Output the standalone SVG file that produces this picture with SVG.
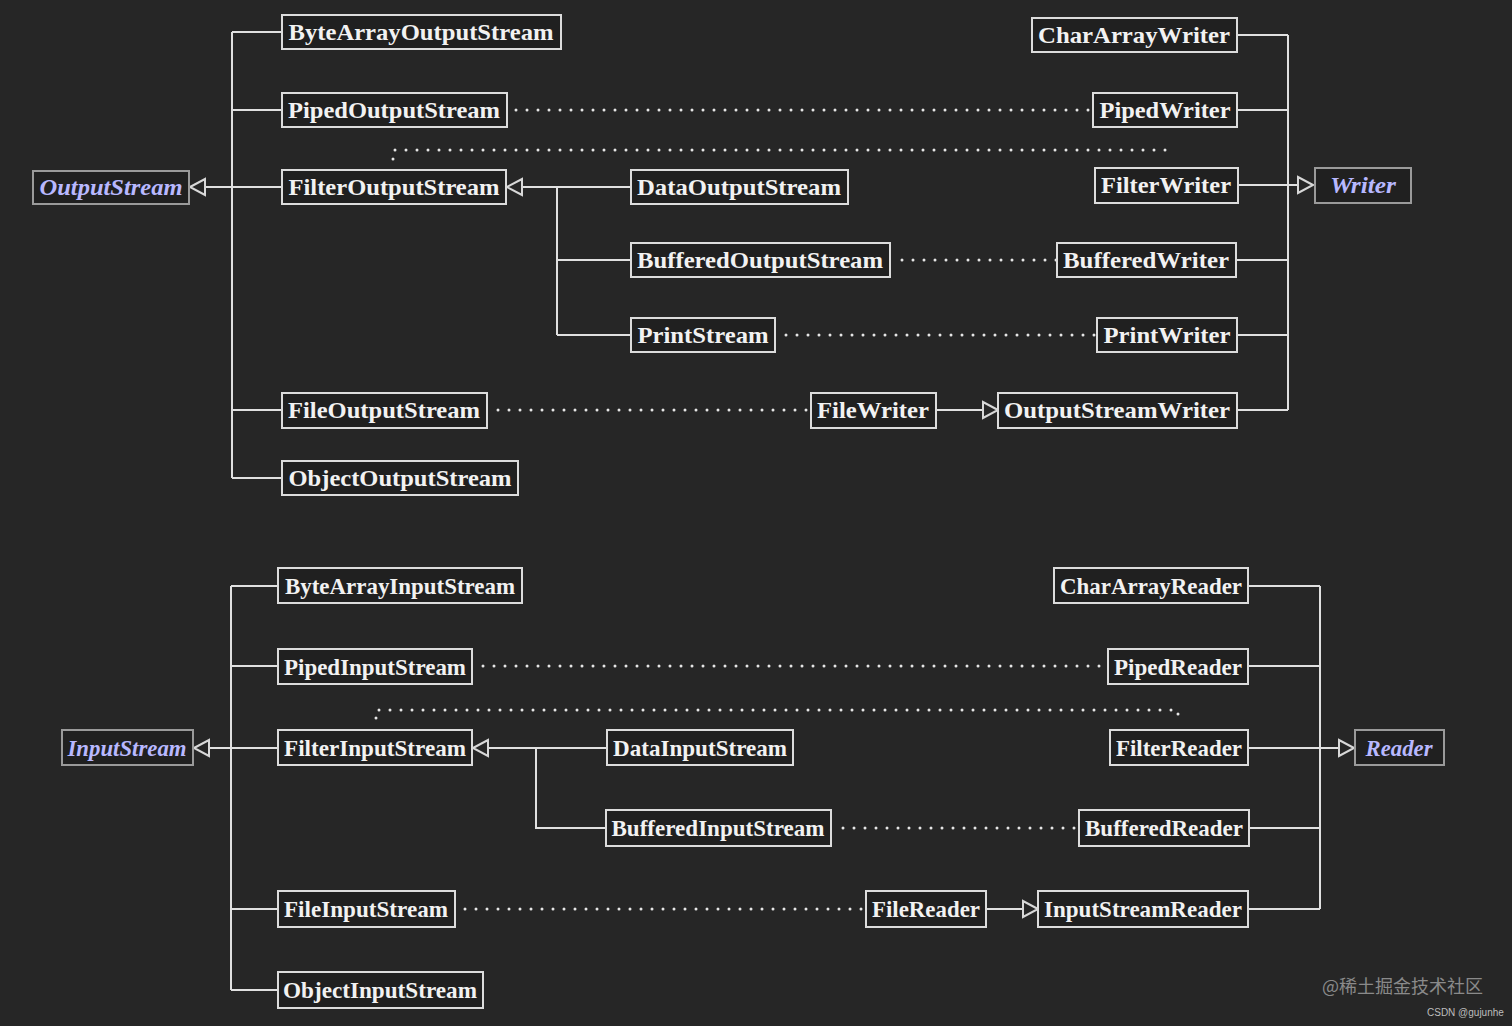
<svg xmlns="http://www.w3.org/2000/svg" width="1512" height="1026" viewBox="0 0 1512 1026">
<style>
.bg{fill:#262626}
.box{fill:#202020;stroke:#dcdcdc;stroke-width:2}
.root{fill:#202020;stroke:#9a9a9a;stroke-width:2}
.t{font-family:"Liberation Serif","Times New Roman",serif;font-weight:bold;font-size:24px;fill:#f2f2f2;text-anchor:middle}
.rt{font-family:"Liberation Serif","Times New Roman",serif;font-weight:bold;font-style:italic;font-size:24px;fill:#b8b8ff;text-anchor:middle}
.ln{fill:none;stroke:#e0e0e0;stroke-width:2}
.dot{fill:none;stroke:#e6e6e6;stroke-width:3;stroke-linecap:round;stroke-dasharray:0 11}
.tri{fill:#262626;stroke:#d8d8d8;stroke-width:2}
.wm{font-family:"Noto Sans CJK SC","Noto Sans",sans-serif;font-size:18px;fill:#8a8a8a}
.wm2{font-family:"Liberation Sans",Arial,sans-serif;font-size:10px;fill:#bdbdbd}
</style>
<rect class="bg" x="0" y="0" width="1512" height="1026"/>

<g id="connectors">
<path class="ln" d="M232 32V478M205 187H282M232 32H282M232 110H282M232 410H282M232 478H282"/>
<path class="ln" d="M522 187H631M557 187V335M557 260H631M557 335H631"/>
<path class="ln" d="M1288 35V410M1237 35H1288M1237 110H1288M1238 185H1297M1236 260H1288M1237 335H1288M1237 410H1288"/>
<path class="ln" d="M936 410H983"/>
<polygon class="tri" points="190,187 205,179 205,195"/>
<polygon class="tri" points="507,187 522,179 522,195"/>
<polygon class="tri" points="1313,185 1298,177 1298,193"/>
<polygon class="tri" points="998,410 983,402 983,418"/>
<path class="dot" d="M516 110H1093"/>
<path class="dot" d="M393 159V150H1166V158"/>
<path class="dot" d="M902 260H1057"/>
<path class="dot" d="M786 335H1097"/>
<path class="dot" d="M498 410H811"/>

<path class="ln" d="M231 586V990M209 748H278M231 586H278M231 666H278M231 909H278M231 990H278"/>
<path class="ln" d="M488 748H607M536 748V828H606"/>
<path class="ln" d="M1320 586V909M1248 586H1320M1248 666H1320M1248 748H1339M1249 828H1320M1248 909H1320"/>
<path class="ln" d="M986 909H1022"/>
<polygon class="tri" points="194,748 209,740 209,756"/>
<polygon class="tri" points="473,748 488,740 488,756"/>
<polygon class="tri" points="1354,748 1339,740 1339,756"/>
<polygon class="tri" points="1038,909 1023,901 1023,917"/>
<path class="dot" d="M483 666H1108"/>
<path class="dot" d="M376 718V710H1178V718"/>
<path class="dot" d="M843 828H1079"/>
<path class="dot" d="M465 909H866"/>
</g>

<g id="OutputStream"><rect class="root" x="33" y="171" width="156" height="33"/><text class="rt" x="111" y="195" textLength="143" lengthAdjust="spacingAndGlyphs">OutputStream</text></g>
<g id="ByteArrayOutputStream"><rect class="box" x="282" y="15" width="279" height="34"/><text class="t" x="421" y="40" textLength="265" lengthAdjust="spacingAndGlyphs">ByteArrayOutputStream</text></g>
<g id="PipedOutputStream"><rect class="box" x="282" y="93" width="225" height="34"/><text class="t" x="394" y="118" textLength="212" lengthAdjust="spacingAndGlyphs">PipedOutputStream</text></g>
<g id="FilterOutputStream"><rect class="box" x="282" y="170" width="224" height="34"/><text class="t" x="394" y="195" textLength="211" lengthAdjust="spacingAndGlyphs">FilterOutputStream</text></g>
<g id="FileOutputStream"><rect class="box" x="282" y="393" width="205" height="35"/><text class="t" x="384" y="418" textLength="192" lengthAdjust="spacingAndGlyphs">FileOutputStream</text></g>
<g id="ObjectOutputStream"><rect class="box" x="282" y="461" width="236" height="34"/><text class="t" x="400" y="486" textLength="223" lengthAdjust="spacingAndGlyphs">ObjectOutputStream</text></g>
<g id="DataOutputStream"><rect class="box" x="631" y="170" width="217" height="34"/><text class="t" x="739" y="195" textLength="204" lengthAdjust="spacingAndGlyphs">DataOutputStream</text></g>
<g id="BufferedOutputStream"><rect class="box" x="631" y="243" width="259" height="34"/><text class="t" x="760" y="268" textLength="246" lengthAdjust="spacingAndGlyphs">BufferedOutputStream</text></g>
<g id="PrintStream"><rect class="box" x="631" y="318" width="144" height="34"/><text class="t" x="703" y="343" textLength="131" lengthAdjust="spacingAndGlyphs">PrintStream</text></g>
<g id="CharArrayWriter"><rect class="box" x="1032" y="18" width="205" height="34"/><text class="t" x="1134" y="43" textLength="192" lengthAdjust="spacingAndGlyphs">CharArrayWriter</text></g>
<g id="PipedWriter"><rect class="box" x="1093" y="93" width="144" height="34"/><text class="t" x="1165" y="118" textLength="131" lengthAdjust="spacingAndGlyphs">PipedWriter</text></g>
<g id="FilterWriter"><rect class="box" x="1095" y="168" width="143" height="35"/><text class="t" x="1166" y="193" textLength="130" lengthAdjust="spacingAndGlyphs">FilterWriter</text></g>
<g id="BufferedWriter"><rect class="box" x="1057" y="243" width="179" height="34"/><text class="t" x="1146" y="268" textLength="166" lengthAdjust="spacingAndGlyphs">BufferedWriter</text></g>
<g id="PrintWriter"><rect class="box" x="1097" y="318" width="140" height="34"/><text class="t" x="1167" y="343" textLength="127" lengthAdjust="spacingAndGlyphs">PrintWriter</text></g>
<g id="FileWriter"><rect class="box" x="811" y="393" width="125" height="35"/><text class="t" x="873" y="418" textLength="112" lengthAdjust="spacingAndGlyphs">FileWriter</text></g>
<g id="OutputStreamWriter"><rect class="box" x="998" y="393" width="239" height="35"/><text class="t" x="1117" y="418" textLength="226" lengthAdjust="spacingAndGlyphs">OutputStreamWriter</text></g>
<g id="Writer"><rect class="root" x="1315" y="168" width="96" height="35"/><text class="rt" x="1363" y="193" textLength="66" lengthAdjust="spacingAndGlyphs">Writer</text></g>

<g id="InputStream"><rect class="root" x="62" y="730" width="131" height="35"/><text class="rt" x="127" y="756" textLength="119" lengthAdjust="spacingAndGlyphs">InputStream</text></g>
<g id="ByteArrayInputStream"><rect class="box" x="278" y="568" width="244" height="35"/><text class="t" x="400" y="594" textLength="230" lengthAdjust="spacingAndGlyphs">ByteArrayInputStream</text></g>
<g id="PipedInputStream"><rect class="box" x="278" y="649" width="194" height="35"/><text class="t" x="375" y="675" textLength="182" lengthAdjust="spacingAndGlyphs">PipedInputStream</text></g>
<g id="FilterInputStream"><rect class="box" x="278" y="730" width="194" height="35"/><text class="t" x="375" y="756" textLength="182" lengthAdjust="spacingAndGlyphs">FilterInputStream</text></g>
<g id="FileInputStream"><rect class="box" x="278" y="891" width="177" height="36"/><text class="t" x="366" y="917" textLength="164" lengthAdjust="spacingAndGlyphs">FileInputStream</text></g>
<g id="ObjectInputStream"><rect class="box" x="278" y="972" width="205" height="36"/><text class="t" x="380" y="998" textLength="194" lengthAdjust="spacingAndGlyphs">ObjectInputStream</text></g>
<g id="DataInputStream"><rect class="box" x="607" y="730" width="186" height="35"/><text class="t" x="700" y="756" textLength="174" lengthAdjust="spacingAndGlyphs">DataInputStream</text></g>
<g id="BufferedInputStream"><rect class="box" x="606" y="810" width="225" height="36"/><text class="t" x="718" y="836" textLength="213" lengthAdjust="spacingAndGlyphs">BufferedInputStream</text></g>
<g id="CharArrayReader"><rect class="box" x="1054" y="568" width="194" height="35"/><text class="t" x="1151" y="594" textLength="182" lengthAdjust="spacingAndGlyphs">CharArrayReader</text></g>
<g id="PipedReader"><rect class="box" x="1108" y="649" width="140" height="35"/><text class="t" x="1178" y="675" textLength="128" lengthAdjust="spacingAndGlyphs">PipedReader</text></g>
<g id="FilterReader"><rect class="box" x="1110" y="730" width="138" height="35"/><text class="t" x="1179" y="756" textLength="126" lengthAdjust="spacingAndGlyphs">FilterReader</text></g>
<g id="BufferedReader"><rect class="box" x="1079" y="810" width="170" height="36"/><text class="t" x="1164" y="836" textLength="158" lengthAdjust="spacingAndGlyphs">BufferedReader</text></g>
<g id="FileReader"><rect class="box" x="866" y="891" width="120" height="36"/><text class="t" x="926" y="917" textLength="108" lengthAdjust="spacingAndGlyphs">FileReader</text></g>
<g id="InputStreamReader"><rect class="box" x="1038" y="891" width="210" height="36"/><text class="t" x="1143" y="917" textLength="198" lengthAdjust="spacingAndGlyphs">InputStreamReader</text></g>
<g id="Reader"><rect class="root" x="1355" y="730" width="89" height="35"/><text class="rt" x="1399" y="756" textLength="67" lengthAdjust="spacingAndGlyphs">Reader</text></g>

<text class="wm" x="1322" y="993">@稀土掘金技术社区</text>
<text class="wm2" x="1427" y="1016">CSDN @gujunhe</text>
</svg>
